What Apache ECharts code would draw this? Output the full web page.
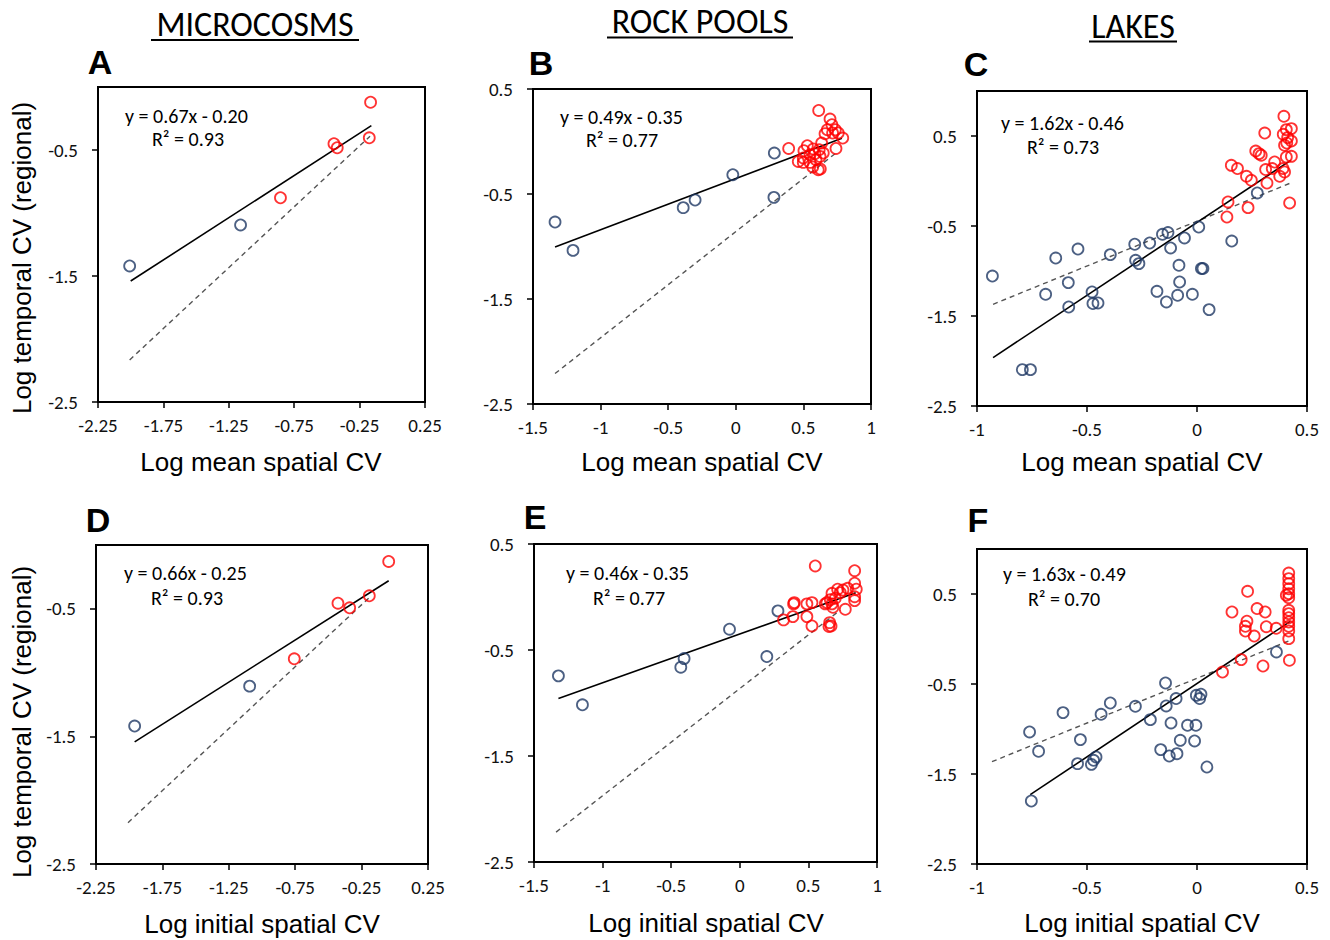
<!DOCTYPE html>
<html><head><meta charset="utf-8">
<script src="https://cdn.jsdelivr.net/npm/echarts@6/dist/echarts.min.js"></script>
<style>html,body{margin:0;padding:0;background:#fff}#c{width:1330px;height:940px}</style>
</head><body><div id="c"></div>
<script>
// ---------- DATA ----------
const colTitles = ['MICROCOSMS', 'ROCK POOLS', 'LAKES'];
const panelLetters = ['A', 'B', 'C', 'D', 'E', 'F'];
const eqTexts = ['y = 0.67x - 0.20', 'y = 0.49x - 0.35', 'y = 1.62x - 0.46', 'y = 0.66x - 0.25', 'y = 0.46x - 0.35', 'y = 1.63x - 0.49'];
const r2Texts = ['R\u00B2 = 0.93', 'R\u00B2 = 0.77', 'R\u00B2 = 0.73', 'R\u00B2 = 0.93', 'R\u00B2 = 0.77', 'R\u00B2 = 0.70'];
const xNames = ['Log mean spatial CV', 'Log initial spatial CV'];
const yName = 'Log temporal CV (regional)';

const xTicksMicro = [-2.25, -1.75, -1.25, -0.75, -0.25, 0.25];
const yTicksMicro = [-2.5, -1.5, -0.5];
const yMaxMicro = 0;
const xTicksRock = [-1.5, -1, -0.5, 0, 0.5, 1];
const yTicksRock = [-2.5, -1.5, -0.5, 0.5];
const yMaxRock = 0.5;
const xTicksLakes = [-1, -0.5, 0, 0.5];
const yTicksLakes = [-2.5, -1.5, -0.5, 0.5];
const yMaxLakes = 1;

// Panel A
const blueA = [[-2.008, -1.42], [-1.16, -1.095]];
const redA = [[-0.855, -0.879], [-0.446, -0.45], [-0.421, -0.482], [-0.166, -0.121], [-0.176, -0.403]];
const fitA = [[-2.0, -1.54], [-0.16, -0.307]];
const refA = [[-2.008, -2.166], [-0.17, -0.39]];
// Panel B
const blueB = [[-1.337, -0.767], [-1.204, -1.037], [-0.389, -0.630], [-0.301, -0.557], [-0.022, -0.316], [0.285, -0.11], [0.282, -0.532]];
const redB = [[0.613, 0.296], [0.697, 0.214], [0.711, 0.160], [0.677, 0.112], [0.736, 0.112], [0.660, 0.074], [0.716, 0.081], [0.758, 0.081], [0.791, 0.033], [0.741, -0.066], [0.635, -0.014], [0.391, -0.066], [0.529, -0.040], [0.504, -0.088], [0.573, -0.071], [0.617, -0.078], [0.585, -0.116], [0.549, -0.126], [0.499, -0.157], [0.462, -0.190], [0.499, -0.199], [0.549, -0.199], [0.593, -0.173], [0.569, -0.243], [0.610, -0.269], [0.625, -0.262], [0.647, -0.110], [0.623, -0.142]];
const fitB = [[-1.337, -1.005], [0.785, 0.03]];
const refB = [[-1.337, -2.21], [0.75, -0.10]];
// Panel C
const blueC = [[-0.930, -1.056], [-0.642, -0.856], [-0.541, -0.756], [-0.688, -1.259], [-0.585, -1.129], [-0.583, -1.400], [-0.477, -1.233], [-0.473, -1.362], [-0.450, -1.355], [-0.394, -0.818], [-0.283, -0.703], [-0.279, -0.881], [-0.264, -0.918], [-0.215, -0.689], [-0.157, -0.592], [-0.132, -0.573], [-0.120, -0.744], [-0.057, -0.633], [0.008, -0.511], [-0.082, -0.937], [0.020, -0.973], [0.027, -0.973], [-0.079, -1.122], [-0.182, -1.226], [-0.139, -1.344], [-0.088, -1.270], [-0.021, -1.259], [0.055, -1.429], [0.158, -0.667], [-0.794, -2.096], [-0.757, -2.096], [0.274, -0.133]];
const redC = [[0.395, 0.719], [0.308, 0.533], [0.406, 0.571], [0.429, 0.582], [0.392, 0.519], [0.412, 0.482], [0.408, 0.422], [0.429, 0.444], [0.398, 0.397], [0.267, 0.333], [0.282, 0.304], [0.292, 0.286], [0.406, 0.267], [0.429, 0.274], [0.353, 0.211], [0.156, 0.174], [0.184, 0.138], [0.312, 0.127], [0.342, 0.138], [0.391, 0.138], [0.398, 0.100], [0.376, 0.052], [0.225, 0.052], [0.247, 0.008], [0.318, -0.022], [0.141, -0.233], [0.232, -0.296], [0.421, -0.244], [0.136, -0.400]];
const fitC = [[-0.927, -1.962], [0.426, 0.23]];
const refC = [[-0.927, -1.37], [0.426, -0.022]];
// Panel D
const blueD = [[-1.959, -1.419], [-1.093, -1.106]];
const redD = [[-0.757, -0.892], [-0.428, -0.456], [-0.340, -0.492], [-0.192, -0.398], [-0.046, -0.129]];
const fitD = [[-1.959, -1.543], [-0.046, -0.28]];
const refD = [[-2.009, -2.176], [-0.189, -0.409]];
// Panel E
const blueE = [[-1.322, -0.744], [-1.147, -1.017], [-0.430, -0.662], [-0.406, -0.581], [-0.075, -0.304], [0.197, -0.562], [0.278, -0.131]];
const redE = [[0.550, 0.293], [0.837, 0.248], [0.837, 0.130], [0.849, 0.073], [0.713, 0.073], [0.752, 0.066], [0.786, 0.082], [0.672, 0.035], [0.732, 0.041], [0.837, 0.003], [0.837, -0.034], [0.696, -0.012], [0.660, -0.025], [0.635, -0.053], [0.623, -0.065], [0.672, -0.065], [0.679, -0.097], [0.769, -0.116], [0.526, -0.053], [0.489, -0.065], [0.397, -0.053], [0.392, -0.065], [0.387, -0.185], [0.489, -0.185], [0.319, -0.216], [0.526, -0.273], [0.655, -0.242], [0.665, -0.273], [0.650, -0.279]];
const fitE = [[-1.322, -0.958], [0.845, 0.039]];
const refE = [[-1.339, -2.218], [0.73, -0.125]];
// Panel F
const blueF = [[-0.761, -1.033], [-0.720, -1.248], [-0.609, -0.818], [-0.530, -1.118], [-0.543, -1.385], [-0.480, -1.393], [-0.470, -1.348], [-0.459, -1.311], [-0.436, -0.837], [-0.394, -0.711], [-0.280, -0.748], [-0.212, -0.896], [-0.143, -0.489], [-0.140, -0.744], [-0.095, -0.662], [-0.118, -0.933], [-0.003, -0.626], [0.018, -0.614], [0.012, -0.662], [-0.043, -0.959], [-0.005, -0.959], [-0.076, -1.126], [-0.011, -1.133], [-0.165, -1.229], [-0.126, -1.300], [-0.091, -1.274], [0.045, -1.422], [-0.753, -1.800], [0.361, -0.144]];
const redF = [[0.417, 0.733], [0.417, 0.671], [0.417, 0.615], [0.417, 0.559], [0.417, 0.504], [0.417, 0.459], [0.417, 0.319], [0.417, 0.282], [0.417, 0.237], [0.417, 0.189], [0.417, 0.141], [0.417, 0.089], [0.417, 0.004], [0.406, 0.486], [0.420, -0.237], [0.230, 0.530], [0.159, 0.300], [0.273, 0.338], [0.310, 0.300], [0.227, 0.197], [0.220, 0.141], [0.220, 0.089], [0.315, 0.137], [0.360, 0.119], [0.260, 0.033], [0.201, -0.229], [0.300, -0.300], [0.116, -0.367]];
const fitF = [[-0.758, -1.73], [0.424, 0.196]];
const refF = [[-0.932, -1.363], [0.424, -0.015]];

// ---------- LAYOUT / STYLE ----------
const BLUE = '#1F3864', RED = '#FF0000';
const tickFont = 'Carlito, Calibri, Lato';
const panels = [
  {grid: {left: 98, top: 87, width: 327, height: 315}, xt: xTicksMicro, yt: yTicksMicro, ymax: yMaxMicro, blue: blueA, red: redA, fit: fitA, ref: refA},
  {grid: {left: 533, top: 89, width: 338, height: 315}, xt: xTicksRock, yt: yTicksRock, ymax: yMaxRock, blue: blueB, red: redB, fit: fitB, ref: refB},
  {grid: {left: 977, top: 91, width: 330, height: 315}, xt: xTicksLakes, yt: yTicksLakes, ymax: yMaxLakes, blue: blueC, red: redC, fit: fitC, ref: refC},
  {grid: {left: 96, top: 545, width: 332, height: 319}, xt: xTicksMicro, yt: yTicksMicro, ymax: yMaxMicro, blue: blueD, red: redD, fit: fitD, ref: refD},
  {grid: {left: 534, top: 544, width: 343, height: 318}, xt: xTicksRock, yt: yTicksRock, ymax: yMaxRock, blue: blueE, red: redE, fit: fitE, ref: refE},
  {grid: {left: 977, top: 549, width: 330, height: 315}, xt: xTicksLakes, yt: yTicksLakes, ymax: yMaxLakes, blue: blueF, red: redF, fit: fitF, ref: refF}
];
const titlePos = [[255, 24, 151, 359, 40], [700, 21, 607, 793, 37.5], [1133, 26, 1089, 1177, 41.5]];
const letterPos = [[100, 62], [541, 63], [976, 64], [98, 520], [535, 517], [978, 520]];
const eqPos = [[125, 116, 152, 139], [560, 117, 586, 140], [1001, 123, 1027, 147], [124, 573, 151, 598], [566, 573, 593, 598], [1003, 574, 1028, 599]];
const xNamePos = [[261, 462], [702, 462], [1142, 462], [262, 924], [706, 923], [1142, 923]];
const yNamePos = [[22, 258], [22, 722]];

const grids = [], xAxes = [], yAxes = [], series = [], graphic = [];
panels.forEach((p, i) => {
  grids.push(Object.assign({show: true, borderColor: '#000', borderWidth: 2, backgroundColor: 'transparent', containLabel: false}, p.grid));
  const axisCommon = {
    type: 'value', gridIndex: i, splitLine: {show: false},
    axisLine: {show: true, onZero: false, lineStyle: {color: '#000', width: 2}},
  };
  xAxes.push(Object.assign({}, axisCommon, {
    min: p.xt[0], max: p.xt[p.xt.length - 1], interval: 0.5,
    axisTick: {show: true, inside: false, length: 6, lineStyle: {color: '#000', width: 1.5}, customValues: p.xt},
    axisLabel: {customValues: p.xt, margin: 14, fontSize: 19, fontFamily: tickFont, color: '#111', formatter: v => String(v)}
  }));
  yAxes.push(Object.assign({}, axisCommon, {
    min: p.yt[0], max: p.ymax, interval: 1,
    axisTick: {show: true, inside: false, length: 6, lineStyle: {color: '#000', width: 1.5}, customValues: p.yt},
    axisLabel: {customValues: p.yt, margin: 20, fontSize: 19, fontFamily: tickFont, color: '#111', formatter: v => String(v)}
  }));
  series.push({type: 'line', xAxisIndex: i, yAxisIndex: i, data: p.ref, symbol: 'none', z: 2, silent: true,
    lineStyle: {color: '#555', width: 1.4, type: [5, 4]}});
  series.push({type: 'line', xAxisIndex: i, yAxisIndex: i, data: p.fit, symbol: 'none', z: 2, silent: true,
    lineStyle: {color: '#000', width: 1.6}});
  [[p.blue, BLUE], [p.red, RED]].forEach(([d, c]) => {
    series.push({type: 'scatter', xAxisIndex: i, yAxisIndex: i, data: d, symbol: 'circle', symbolSize: 11, z: 3,
      itemStyle: {color: 'rgba(0,0,0,0)', borderColor: c, borderWidth: 1.8}});
  });
  graphic.push({type: 'text', x: letterPos[i][0], y: letterPos[i][1], style: {text: panelLetters[i], font: 'bold 34px "Liberation Sans", Arial', fill: '#000', textAlign: 'center', textVerticalAlign: 'middle'}});
  graphic.push({type: 'text', x: eqPos[i][0], y: eqPos[i][1], style: {text: eqTexts[i], font: '20px ' + tickFont, fill: '#000', textAlign: 'left', textVerticalAlign: 'middle'}});
  graphic.push({type: 'text', x: eqPos[i][2], y: eqPos[i][3], style: {text: r2Texts[i], font: '20px ' + tickFont, fill: '#000', textAlign: 'left', textVerticalAlign: 'middle'}});
  graphic.push({type: 'text', x: xNamePos[i][0], y: xNamePos[i][1], style: {text: xNames[i < 3 ? 0 : 1], font: '26px "Liberation Sans", Arial', fill: '#000', textAlign: 'center', textVerticalAlign: 'middle'}});
});
colTitles.forEach((t, j) => {
  const tp = titlePos[j];
  graphic.push({type: 'text', x: tp[0], y: tp[1], style: {text: t, font: '34px ' + tickFont, fill: '#000', textAlign: 'center', textVerticalAlign: 'middle'}});
  graphic.push({type: 'line', shape: {x1: tp[2], y1: tp[4], x2: tp[3], y2: tp[4]}, style: {stroke: '#000', lineWidth: 2}});
});
yNamePos.forEach(pos => {
  graphic.push({type: 'text', x: pos[0], y: pos[1], rotation: Math.PI / 2, style: {text: yName, font: '26px "Liberation Sans", Arial', fill: '#000', textAlign: 'center', textVerticalAlign: 'middle'}});
});

const chart = echarts.init(document.getElementById('c'), null, {renderer: 'svg', width: 1330, height: 940});
chart.setOption({
  animation: false,
  backgroundColor: '#fff',
  grid: grids, xAxis: xAxes, yAxis: yAxes, series: series, graphic: graphic
});
</script></body></html>
